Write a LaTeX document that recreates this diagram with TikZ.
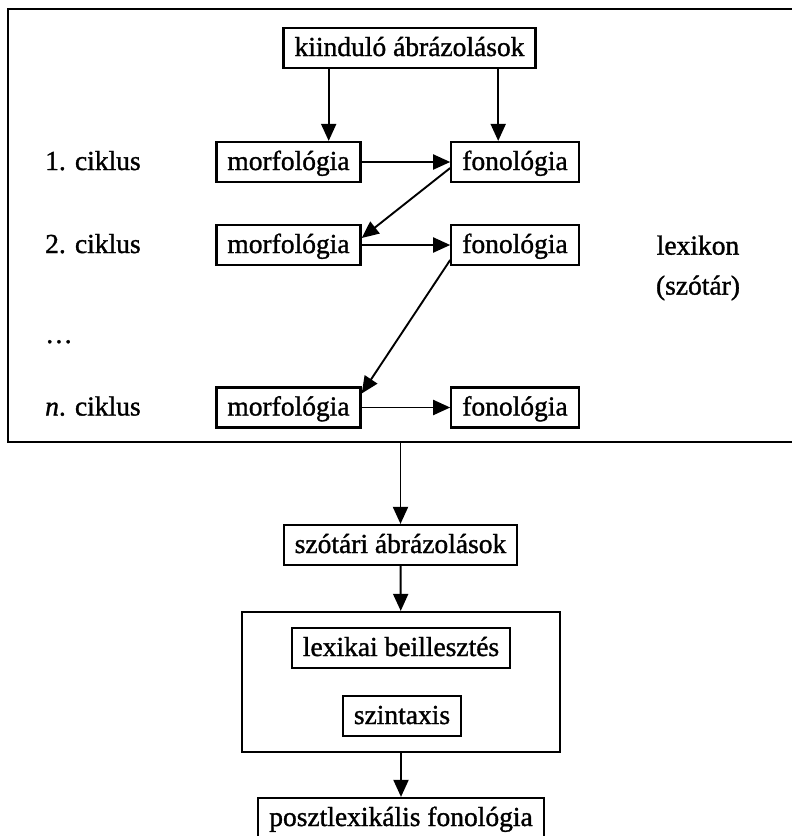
\documentclass[tikz,border=0pt]{standalone}
\usepackage{fontspec}
\setmainfont{Liberation Serif}[FakeBold=1.2]
\usetikzlibrary{arrows.meta}

\begin{document}
\begin{tikzpicture}[x=1pt,y=-1pt,font=\fontsize{27.5}{40}\selectfont]
\clip (0,0) rectangle (792,836);
% lexicon frame, running off the right edge
\draw[line width=2.4pt] (8,9) rectangle (796,442);
\coordinate (lexbottom) at (400,442);

\begin{scope}[every node/.style={draw,line width=2.2pt,inner xsep=11pt,minimum height=40pt,
              text height=21pt,text depth=5pt}]
    \node (kiind) at (409.5,48) {kiinduló ábrázolások};
    \node (morfA) at (288.5,162) {morfológia};
    \node (fonA) at (515,162) {fonológia};
    \node (morfB) at (288.5,245) {morfológia};
    \node (fonB) at (515,245) {fonológia};
    \node (morfN) at (288.5,407.5) {morfológia};
    \node (fonN) at (515,407.5) {fonológia};
    \node (szotari) at (400.5,545) {szótári ábrázolások};
    \node[minimum width=318pt,minimum height=140pt] (syntbox) at (401,682) {};
    \node (lexikai) at (401,648) {lexikai beillesztés};
    \node (szintaxis) at (402,716) {szintaxis};
    \node (poszt) at (401,818) {posztlexikális fonológia};
\end{scope}

\begin{scope}[every node/.style={anchor=base west,inner sep=0pt}]
    \node (ciklA) at (45,170) {1. ciklus};
    \node (ciklB) at (45,253) {2. ciklus};
    \node (dots) at (45,343) {\ldots};
    \node (ciklN) at (45,415.5) {\textit{n}. ciklus};
\end{scope}
\node[align=center] (lexikon) at (698,268) {lexikon\\(szótár)};

\begin{scope}[>={Triangle[length=17pt,width=15pt]},
              every edge/.style={draw=black,line width=1.9pt}]
    \path [->] ([xshift=-33pt]morfA.north east |- kiind.south) edge ([xshift=-33pt]morfA.north east);
    \path [->] ([xshift=48pt]fonA.north west |- kiind.south) edge ([xshift=48pt]fonA.north west);
    \path [->] (morfA) edge (fonA);
    \path [->] ([yshift=-6pt]fonA.west) edge ([yshift=7pt]morfB.east);
    \path [->] (morfB) edge (fonB);
    \path [->] ([yshift=-15pt]fonB.west) edge ([yshift=14pt]morfN.east);
    \path [->] (morfN) edge (fonN);
    \path [->] (szotari.north |- lexbottom) edge (szotari);
    \path [->] (szotari) edge (syntbox);
    \path [->] (syntbox) edge (poszt);
\end{scope}
\end{tikzpicture}
\end{document}
